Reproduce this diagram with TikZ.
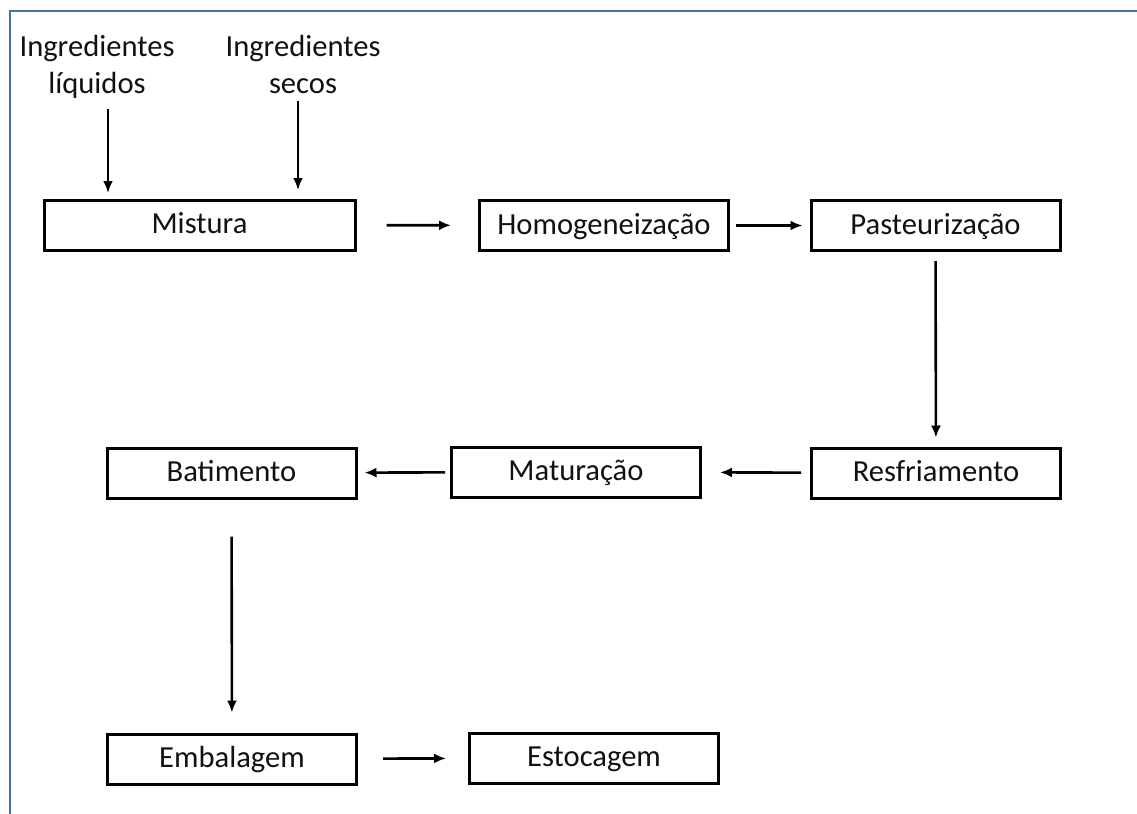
\documentclass[tikz,border=0pt]{standalone}
\usepackage{fontspec}
\setmainfont{Carlito}
\usepackage{tikz}
\usetikzlibrary{arrows.meta,positioning}
\definecolor{flInk}{HTML}{111111}
\definecolor{flFrame}{HTML}{4F6FA6}
\tikzset{
  % Process step box
  stepbox/.style={rectangle,draw=black,line width=1.5pt,
    minimum width=124.5pt,minimum height=25pt,inner sep=0pt,
    text height=11pt,text depth=2.5pt,
    font=\fontsize{15.3}{18}\selectfont,text=flInk},
  % Input label (no box)
  inlbl/.style={inner sep=0pt,align=center,anchor=north,
    font=\fontsize{15.3}{18.5}\selectfont,text=flInk},
  % Arrows
  arr/.style={-{Latex[length=6pt,width=5pt]},line width=1.3pt,color=black},
  % Page frame
  frm/.style={line width=1.1pt,color=flFrame},
}
\begin{document}
\begin{tikzpicture}[x=0.5pt,y=-0.5pt]
  \useasboundingbox (0,0) rectangle (1137,814);
  \draw[frm] (10,814) -- (10,11) -- (1137,11);

  % Inputs
  \node[inlbl] (liq) at (97,35) {Ingredientes\\líquidos};
  \node[inlbl] (sec) at (303,35) {Ingredientes\\secos};

  % Row 1
  \node[stepbox,minimum width=155.5pt] (mist) at (199.5,225) {Mistura};
  \node[stepbox] (homog) at (604,225.5) {Homogeneização};
  \node[stepbox] (past) at (935.5,225.5) {Pasteurização};

  % Row 2
  \node[stepbox] (resf) at (936,473) {Resfriamento};
  \node[stepbox] (mat) at (576,472) {Maturação};
  \node[stepbox] (bat) at (231.5,473) {Batimento};

  % Row 3
  \node[stepbox] (emb) at (232,759) {Embalagem};
  \node[stepbox] (est) at (594,758) {Estocagem};

  \coordinate (liqin) at (108,200);
  \coordinate (secin) at (298,197);
  \draw[arr,shorten <=5pt,shorten >=3.5pt] (liq.south -| liqin) -- (liqin);
  \draw[arr,shorten <=3.5pt,shorten >=3.5pt] (sec.south -| secin) -- (secin);

  \draw[arr,shorten <=15pt,shorten >=13.5pt] (mist) -- (homog);
  \draw[arr,shorten <=3pt,shorten >=3.5pt] (homog) -- (past);
  \draw[arr,shorten <=4.5pt,shorten >=4.5pt] (past) -- (resf);
  \draw[arr,shorten <=4.5pt,shorten >=9pt] (resf) -- (mat);
  \draw[arr,shorten <=2.5pt,shorten >=3.5pt] (mat) -- (bat);
  \draw[arr,shorten <=18.5pt,shorten >=10pt] (bat) -- (emb);
  \draw[arr,shorten <=12.5pt,shorten >=11pt] (emb) -- (est);
\end{tikzpicture}
\end{document}
